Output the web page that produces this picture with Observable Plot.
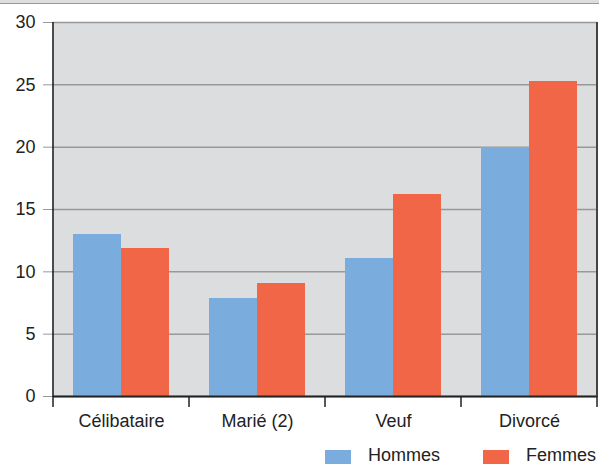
<!DOCTYPE html>
<html>
<head>
<meta charset="utf-8">
<script src="https://cdn.jsdelivr.net/npm/d3@7"></script>
<script src="https://cdn.jsdelivr.net/npm/@observablehq/plot@0.6"></script>
<style>
  body { margin: 0; background: #fff; }
  #wrap { position: relative; width: 599px; height: 464px; overflow: hidden; font-family: "Liberation Sans", Arial, sans-serif; color: #222; }
  #strip { height: 3px; background: #dcdddf; border-bottom: 1px solid #9a9a9a; }
  #chart svg { display: block; }
  #legend { position: absolute; left: 325px; top: 446px; display: flex; align-items: flex-start; font-size: 18px; line-height: 18px; }
  .sw { width: 26px; height: 16px; margin-top: 4px; margin-right: 17px; }
  .lab { margin-right: 43px; white-space: nowrap; }
</style>
</head>
<body>
<div id="wrap">
  <div id="strip"></div>
  <div id="chart"></div>
  <div id="legend"></div>
</div>
<script>
const categories = ["Célibataire", "Marié (2)", "Veuf", "Divorcé"];
const series = ["Hommes", "Femmes"];
const hommes = [13.0, 7.9, 11.1, 20.0];
const femmes = [11.9, 9.1, 16.2, 25.3];
const colors = ["#7aaddd", "#f26648"];
const yTicks = [0, 5, 10, 15, 20, 25, 30];

const data = categories.flatMap((c, i) => [
  {cat: c, sex: series[0], v: hommes[i]},
  {cat: c, sex: series[1], v: femmes[i]}
]);

const W = 599, H = 436, mT = 18, mB = 44, mL = 53, mR = 2;

const chart = Plot.plot({
  width: W, height: H,
  marginTop: mT, marginBottom: mB, marginLeft: mL, marginRight: mR,
  style: {fontFamily: "'Liberation Sans', Arial, sans-serif", fontSize: "18px", color: "#222", background: "transparent"},
  fx: {domain: categories, padding: 0, label: null},
  x: {domain: series, paddingInner: 0, paddingOuter: 0.41, axis: null},
  y: {domain: [0, 30], label: null},
  color: {domain: series, range: colors},
  marks: [
    Plot.frame({fill: "#dcdddf", stroke: "none", shapeRendering: "crispEdges"}),
    Plot.gridY(yTicks, {stroke: "#999", strokeOpacity: 1, strokeWidth: 1.5}),
    Plot.barY(data, {fx: "cat", x: "sex", y: "v", fill: "sex", inset: 0, shapeRendering: "crispEdges"}),
    Plot.ruleY([0], {stroke: "#222", strokeWidth: 2}),
    Plot.axisY(yTicks, {tickSize: 10, tickPadding: 8, stroke: "#999", fill: "#222", label: null, fontSize: 18}),
    Plot.axisFx({anchor: "bottom", tickSize: 0, tickPadding: 18, label: null, fontSize: 18, fill: "#222"})
  ]
});
document.getElementById("chart").appendChild(chart);

// plot-area borders and category boundary ticks, positioned with the same band layout
const svg = d3.select(chart);
const fxBand = d3.scaleBand(categories, [mL, W - mR]).padding(0);
const y = chart.scale("y");
const yS = d3.scaleLinear(y.domain, y.range);
const g = svg.append("g");
g.append("line").attr("x1", mL).attr("x2", mL).attr("y1", yS(30)).attr("y2", yS(0) + 1)
  .attr("stroke", "#111").attr("stroke-width", 1.5);
g.append("line").attr("x1", W - mR).attr("x2", W - mR).attr("y1", yS(30)).attr("y2", yS(0) + 1)
  .attr("stroke", "#444").attr("stroke-width", 2);
const edges = categories.map(c => fxBand(c)).concat([fxBand(categories[categories.length - 1]) + fxBand.bandwidth()]);
g.selectAll("line.t").data(edges).join("line").attr("class", "t")
  .attr("x1", d => d).attr("x2", d => d)
  .attr("y1", yS(0)).attr("y2", yS(0) + 11)
  .attr("stroke", "#222").attr("stroke-width", 1.5);

// legend
const legend = document.getElementById("legend");
series.forEach((s, i) => {
  const sw = document.createElement("div");
  sw.className = "sw"; sw.style.background = colors[i];
  const lab = document.createElement("div");
  lab.className = "lab"; lab.textContent = s;
  legend.appendChild(sw); legend.appendChild(lab);
});
</script>
</body>
</html>
